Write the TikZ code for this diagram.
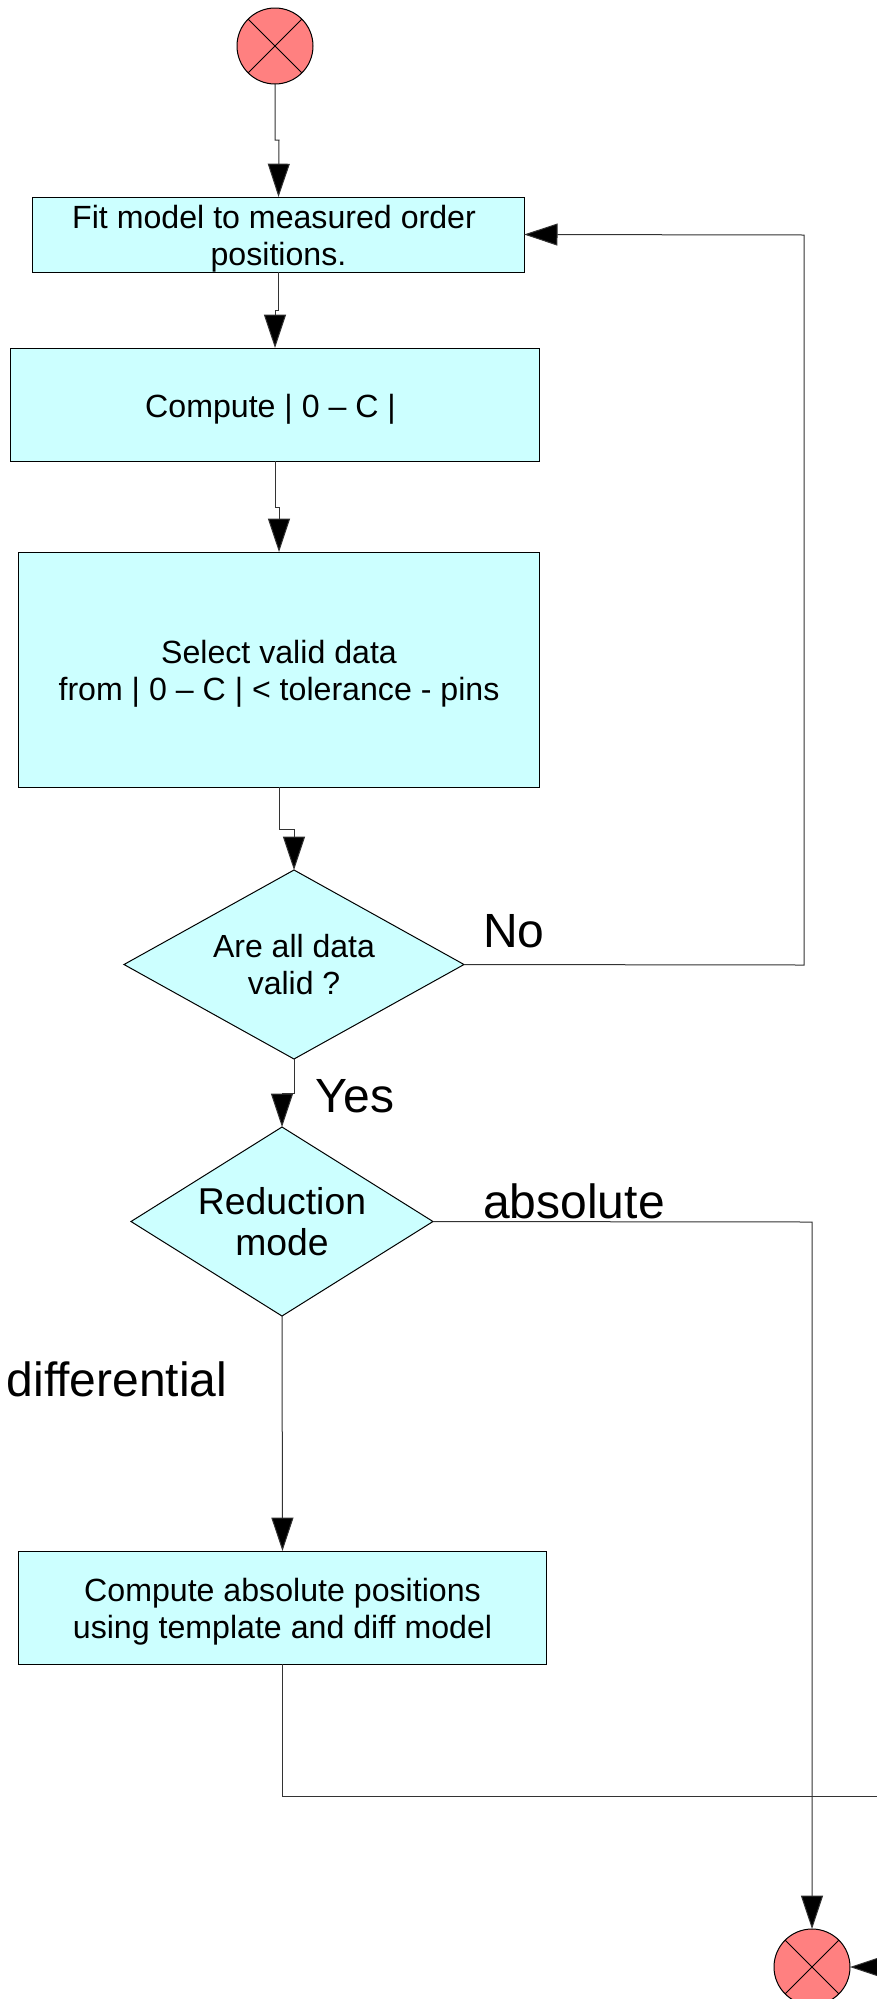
\documentclass[tikz,border=0pt]{standalone}
\usepackage{fontspec}
\setmainfont{Liberation Sans}
\usetikzlibrary{shapes.geometric,arrows.meta}
\definecolor{boxfill}{HTML}{CCFFFF}
\definecolor{endfill}{HTML}{FF8080}
\newcommand{\nudgeline}{\rule{0pt}{24pt}}
\tikzset{
  boxnode/.style={draw=black,line width=0.75pt,fill=boxfill,rectangle,inner sep=0,outer sep=0,align=center,font=\fontsize{24.1}{27.6}\selectfont},
  decide/.style={draw=black,line width=0.75pt,fill=boxfill,diamond,inner sep=0,outer sep=0,align=center},
  endnode/.style={draw=black,line width=0.75pt,fill=endfill,circle,inner sep=0,outer sep=0,minimum size=57pt},
  crossline/.style={draw=black,line width=0.75pt},
  conn/.style={draw=black!80,line width=0.75pt,-{Triangle[length=25pt,width=16.5pt,fill=black]}},
  plainconn/.style={draw=black!80,line width=0.75pt},
  lab/.style={anchor=base,inner sep=0,font=\fontsize{36}{40}\selectfont}
}
\begin{document}
\begin{tikzpicture}[x=0.75pt,y=-0.75pt]
\useasboundingbox (0,0) rectangle (877,1999);
\clip (0,0) rectangle (877,1999);
\node[endnode] (start) at (275,46) {};
\draw[crossline] (start.45) -- (start.225) (start.135) -- (start.315);
\node[boxnode,inner ysep=-3pt,minimum width=368.5pt,minimum height=56.25pt] (fit) at (278.5,234.5) {\nudgeline Fit model to measured order\kern6.7pt\\positions.};
\node[boxnode,minimum width=396.4pt,minimum height=84.75pt] (comp) at (275,404.5) {\nudgeline Compute | 0 – C |\kern6.7pt};
\node[boxnode,minimum width=390.75pt,minimum height=176.25pt] (sel) at (279,669.5) {\nudgeline Select valid data\\from | 0 – C | < tolerance - pins};
\node[decide,minimum width=255pt,minimum height=141.75pt,shape aspect=1.8,font=\fontsize{24}{27.6}\selectfont] (d1) at (294,964.5) {Are all data\\valid ?};
\node[decide,minimum width=226.5pt,minimum height=141.75pt,shape aspect=1.6,font=\fontsize{28}{31}\selectfont] (d2) at (282,1221.5) {Reduction\\mode};
\node[boxnode,minimum width=396pt,minimum height=84.75pt] (abs) at (282.5,1607.5) {\nudgeline Compute absolute positions\\using template and diff model};
\node[endnode] (stop) at (812,1967) {};
\draw[crossline] (stop.45) -- (stop.225) (stop.135) -- (stop.315);
\node[lab] (no) at (514,947) {No};
\node[lab] (yes) at (355,1112) {Yes};
\node[lab] (absl) at (574,1218) {absolute};
\node[lab] (diffl) at (117,1396) {differential};
\coordinate (c1) at (279,140);
\coordinate (c2) at (275,310);
\coordinate (c3) at (279,507);
\coordinate (c4) at (294,829);
\coordinate (c5) at (282,1093);
\coordinate (c6) at (804,965);
\coordinate (c7) at (804,235);
\coordinate (c8) at (812,1222);
\coordinate (off1) at (890,1796);
\coordinate (off2) at (900,1967);
\draw[conn] (start.south) |- (c1) -- (fit.north);
\draw[conn] (fit.south) |- (c2) -- (comp.north);
\draw[conn] (comp.south) |- (c3) -- (sel.north);
\draw[conn] (sel.south) |- (c4) -| (d1.north);
\draw[conn] (d1.south) |- (c5) -- (d2.north);
\draw[conn] (d1.east) -- (c6) -- (c7) -- (fit.east);
\draw[conn] (d2.east) -- (c8) -- (stop.north);
\draw[conn] (d2.south) -- (abs.north);
\draw[plainconn] (abs.south) |- (off1);
\draw[conn] (off2) -- (stop.east);
\end{tikzpicture}
\end{document}
